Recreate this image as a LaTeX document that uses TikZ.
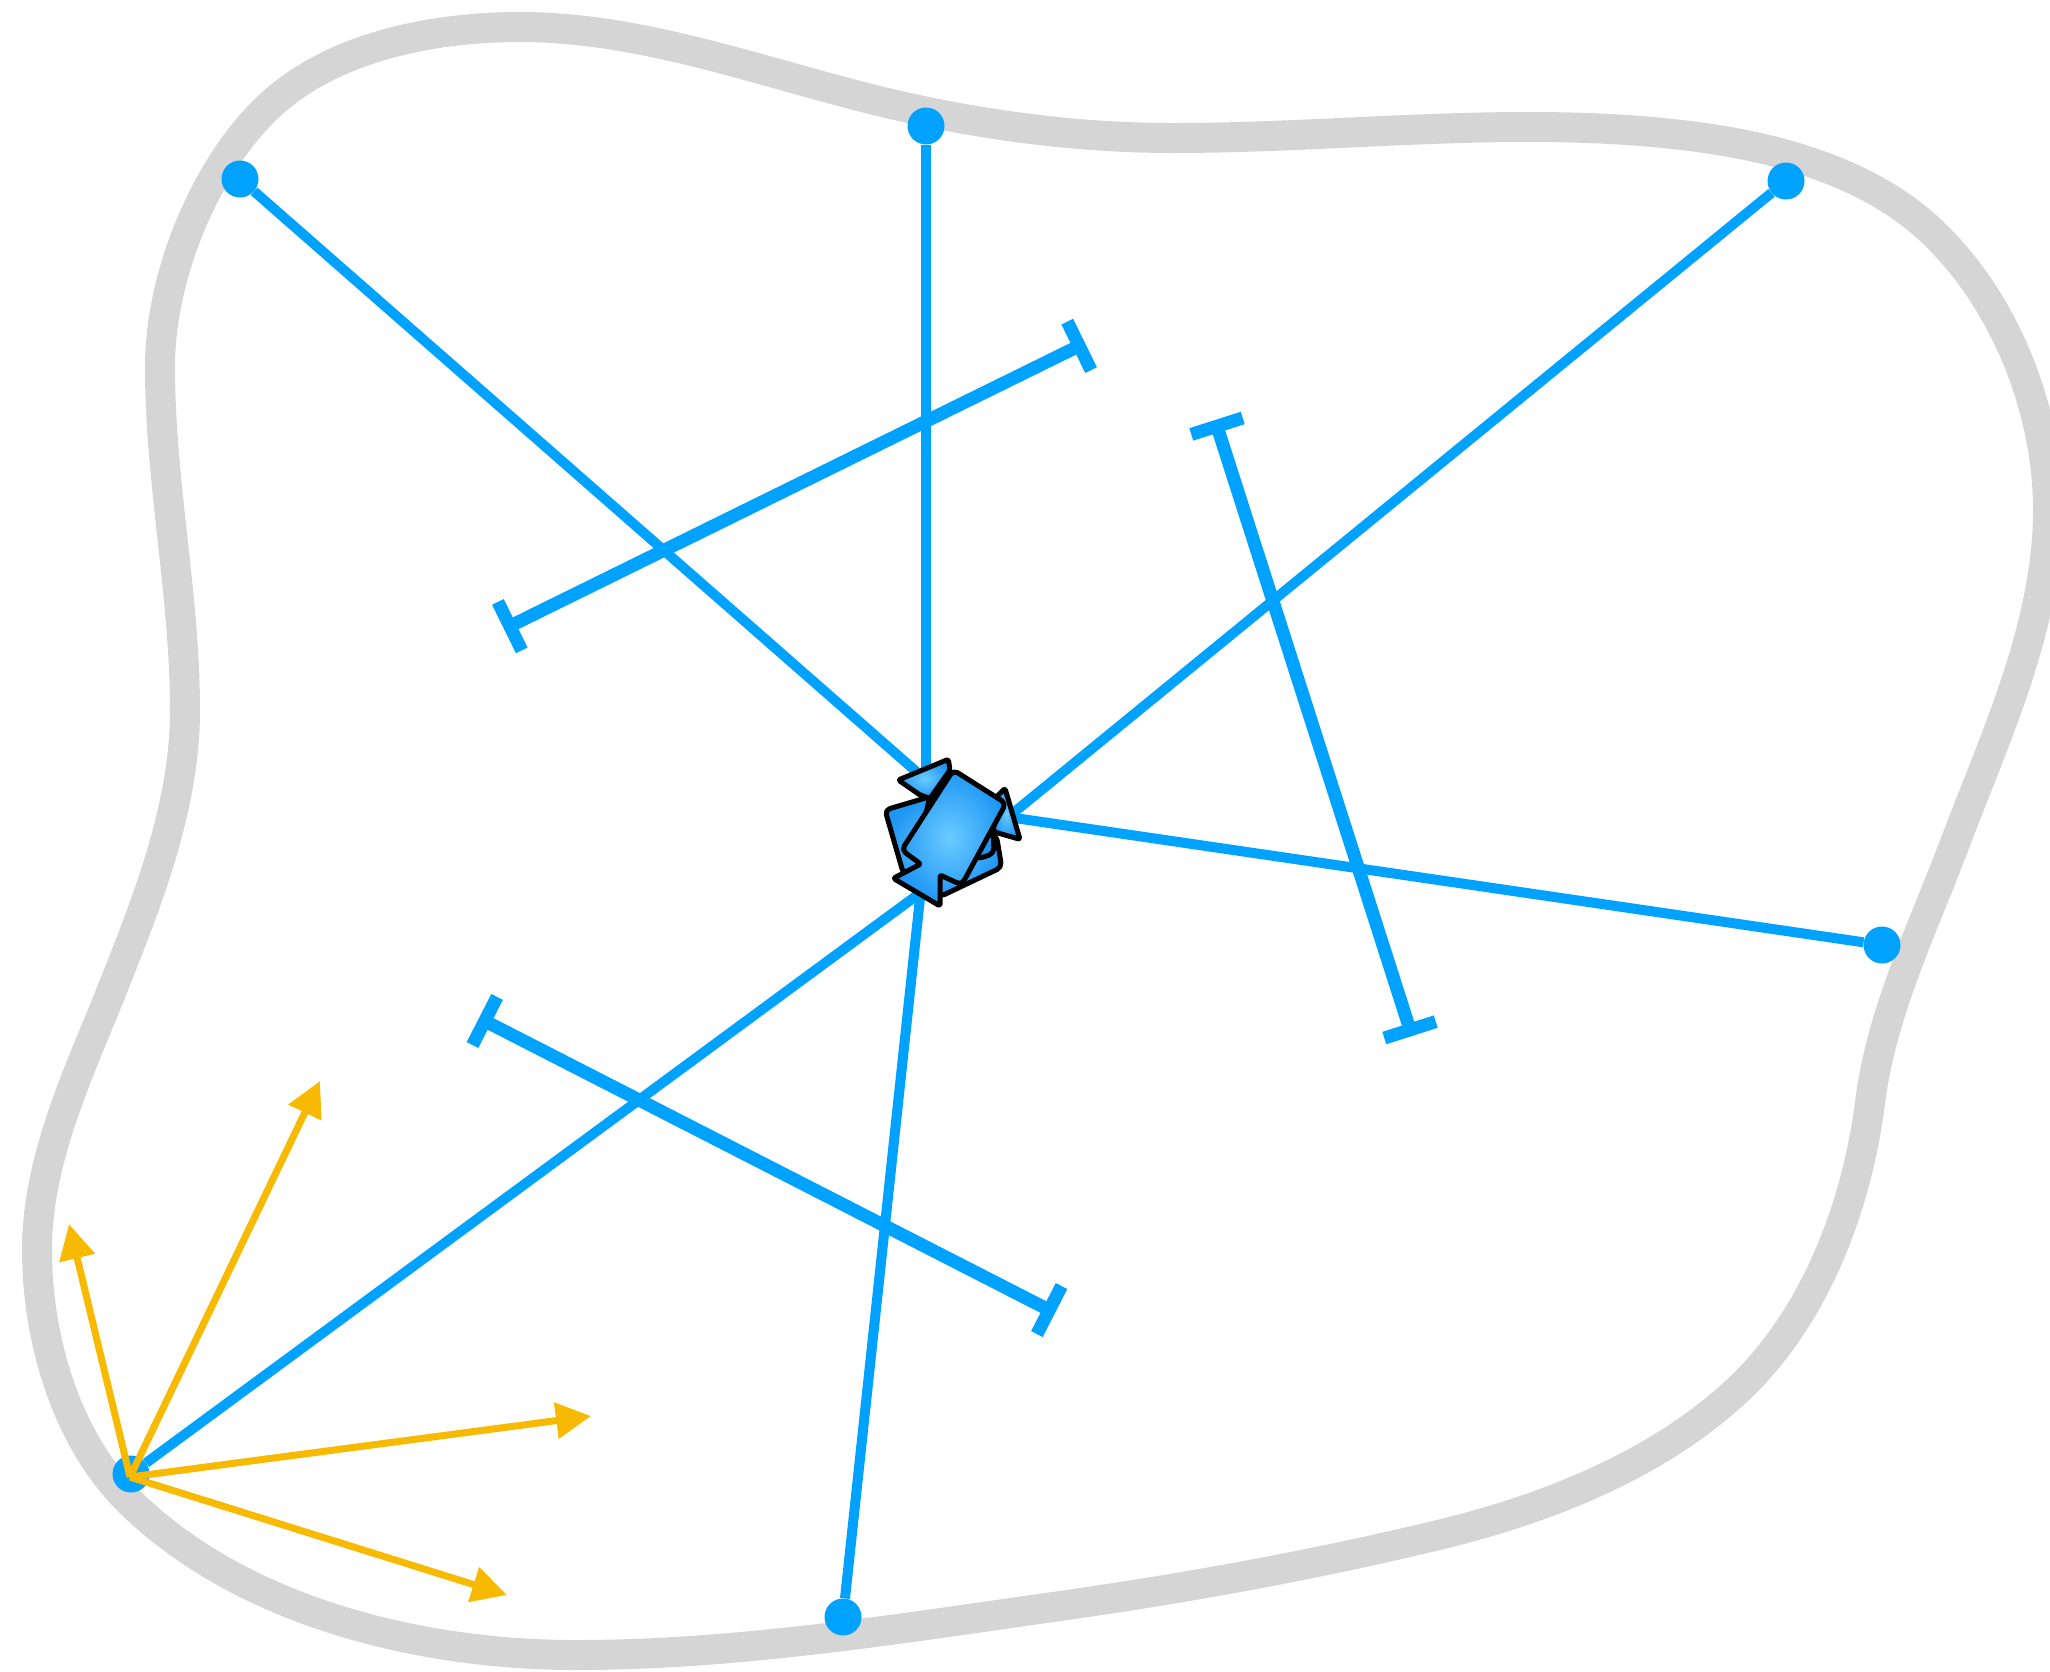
\documentclass[tikz,border=0pt]{standalone}
\usepackage{tikz}
\usetikzlibrary{arrows.meta,positioning,calc}
\definecolor{cblue}{HTML}{00A2FF}
\definecolor{camber}{HTML}{F8BA00}
\definecolor{cblob}{HTML}{D5D5D5}
\definecolor{cglow}{HTML}{6BCBFF}
\definecolor{cdeep}{HTML}{1E96F5}
\tikzset{
  blob/.style={draw=cblob, line width=30pt},
  dot/.style={circle, fill=cblue, inner sep=0pt, minimum size=37pt},
  ray/.style={draw=cblue, line width=10pt},
  span/.style={draw=cblue, line width=13pt, {Bar[width=54pt]}-{Bar[width=54pt]}},
  vec/.style={draw=camber, line width=7pt, -{Triangle[length=35pt,width=35pt]}},
  piece/.style={draw=black, line width=5pt, line join=round, rounded corners=5pt, inner color=cglow, outer color=cdeep},
}
\begin{document}
\begin{tikzpicture}[x=1pt,y=-1pt]
\useasboundingbox (0,0) rectangle (2050,1671);
% outline
\draw[blob] (1870,1103) .. controls (1881,1013) and (1923,928) .. (1955,843)
  .. controls (1996,735) and (2048,625) .. (2048,510)
  .. controls (2048,407) and (2003,296) .. (1927,227)
  .. controls (1858,165) and (1756,142) .. (1663,133)
  .. controls (1501,117) and (1336,138) .. (1173,138)
  .. controls (1077,138) and (980,125) .. (887,103)
  .. controls (765,74) and (645,27) .. (520,27)
  .. controls (430,27) and (326,48) .. (263,112)
  .. controls (205,170) and (160,275) .. (160,367)
  .. controls (160,482) and (185,595) .. (185,710)
  .. controls (185,810) and (145,907) .. (108,1000)
  .. controls (75,1081) and (37,1163) .. (37,1250)
  .. controls (37,1340) and (67,1442) .. (132,1504)
  .. controls (244,1612) and (420,1655) .. (576,1655)
  .. controls (733,1655) and (891,1630) .. (1046,1608)
  .. controls (1175,1590) and (1304,1567) .. (1430,1537)
  .. controls (1537,1512) and (1648,1470) .. (1730,1397)
  .. controls (1812,1325) and (1856,1211) .. (1870,1103);
% boundary points
\node[dot] (p1) at (240,179) {};
\node[dot] (p2) at (926,126) {};
\node[dot] (p3) at (1786,181) {};
\node[dot] (p4) at (1882,945) {};
\node[dot] (p5) at (843,1617) {};
\node[dot] (p6) at (131,1474) {};
\coordinate (h1) at (935,788);
\coordinate (h2) at (926,800);
\coordinate (h3) at (974,845);
\coordinate (h4) at (967,811);
\coordinate (h5) at (923,870);
\coordinate (h6) at (935,882);
\draw[ray] (p1) -- (h1);
\draw[ray] (p2) -- (h2);
\draw[ray] (p3) -- (h3);
\draw[ray] (p4) -- (h4);
\draw[ray] (p5) -- (h5);
\draw[ray] (p6) -- (h6);
% spans
\coordinate (a1) at (504,629);
\coordinate (a2) at (1085,343);
\coordinate (b1) at (1215,420);
\coordinate (b2) at (1412,1036);
\coordinate (c1) at (479,1018);
\coordinate (c2) at (1055,1313);
\draw[span] (a1) -- (a2);
\draw[span] (b1) -- (b2);
\draw[span] (c1) -- (c2);
% vectors
\coordinate (o) at (130,1477);
\coordinate (t1) at (69,1224);
\coordinate (t2) at (320,1081);
\coordinate (t3) at (591,1416);
\coordinate (t4) at (507,1595);
\draw[vec] (o) -- (t1);
\draw[vec] (o) -- (t2);
\draw[vec] (o) -- (t3);
\draw[vec] (o) -- (t4);
% center pieces
\begin{scope}[shift={(850,750)},x=.3333pt,y=-.3333pt]
\shade[piece] (105,180) -- (240,140) -- (440,260) -- (455,352) -- (270,440) -- (160,370) -- cycle;
\shade[piece] (240,140) -- (430,250) -- (432,310) -- (390,325) -- (200,300) -- cycle;
\shade[piece,rounded corners=1.5pt] (145,90) -- (295,28) -- (300,60) -- (240,145) -- (210,135) -- cycle;
\shade[piece,rounded corners=1.5pt] (465,115) -- (510,268) -- (430,245) -- (440,140) -- cycle;
\shade[piece] (310,60) -- (468,160) -- (335,405) [rounded corners=1.5pt] -- (270,375) -- (270,468) -- (130,385) -- (212,342) [rounded corners=5pt] -- (155,300) -- cycle;
\end{scope}
\end{tikzpicture}
\end{document}
